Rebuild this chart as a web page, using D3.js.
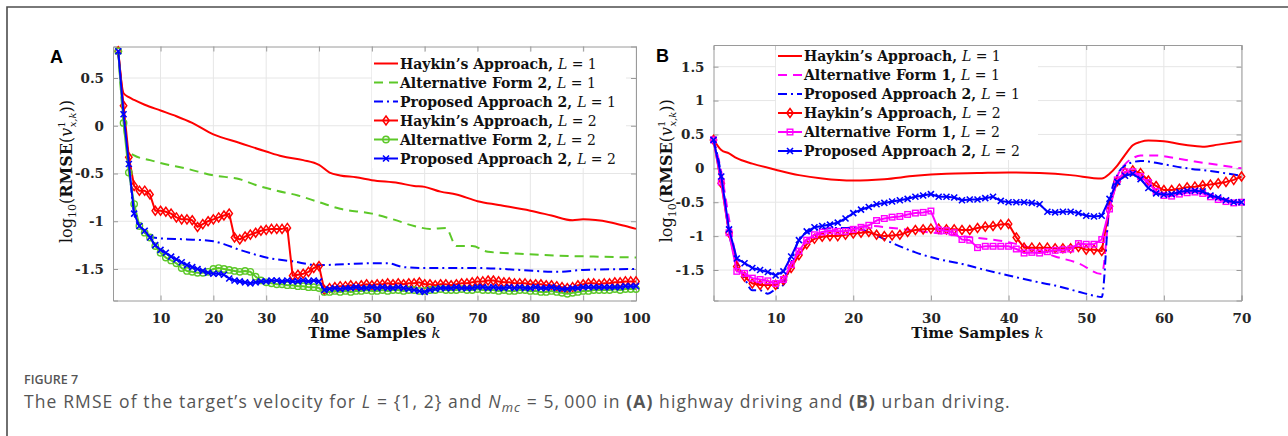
<!DOCTYPE html>
<html>
<head>
<meta charset="utf-8">
<script src="https://cdn.jsdelivr.net/npm/d3@7"></script>
<style>
  body { margin: 0; background: #fff; }
  svg { display: block; }
</style>
</head>
<body>
<div id="chart"></div>
<script>
// ---------- data ----------
var methodNames = ["Haykin’s Approach", "Alternative Form 2", "Proposed Approach 2"];
var methodNamesB = ["Haykin’s Approach", "Alternative Form 1", "Proposed Approach 2"];
var lValues = [1, 2];

var xTicksA = [10, 20, 30, 40, 50, 60, 70, 80, 90, 100];
var yTicksA = [-1.5, -1, -0.5, 0, 0.5];
var xTicksB = [10, 20, 30, 40, 50, 60, 70];
var yTicksB = [-1.5, -1, -0.5, 0, 0.5, 1, 1.5];

// panel A, L = 1 (lines only) : [k, value]
var haykinA1 = [[2,0.78],[3,0.34],[4,0.30],[5,0.27],[7,0.22],[10,0.16],[13,0.10],[16,0.03],[20,-0.09],[25,-0.18],[30,-0.27],[33,-0.32],[37,-0.36],[40,-0.41],[42,-0.49],[44,-0.52],[47,-0.54],[50,-0.57],[55,-0.60],[58,-0.63],[60,-0.64],[63,-0.69],[66,-0.72],[70,-0.79],[74,-0.83],[80,-0.89],[84,-0.94],[88,-0.99],[90,-0.98],[95,-1.01],[98,-1.05],[100,-1.08]];
var altA1 = [[2,0.78],[3,0.03],[4,-0.27],[5,-0.31],[8,-0.36],[10,-0.39],[15,-0.45],[20,-0.52],[25,-0.56],[28,-0.62],[32,-0.68],[36,-0.73],[40,-0.80],[44,-0.87],[50,-0.92],[54,-0.98],[58,-1.05],[61,-1.08],[64,-1.07],[66,-1.26],[69,-1.26],[72,-1.32],[78,-1.34],[85,-1.36],[92,-1.37],[100,-1.38]];
var propA1 = [[2,0.78],[3,0.12],[4,-0.40],[5,-0.92],[6,-1.05],[7,-1.12],[8,-1.16],[10,-1.18],[15,-1.19],[20,-1.21],[22,-1.24],[25,-1.30],[28,-1.35],[30,-1.38],[35,-1.42],[40,-1.46],[45,-1.45],[50,-1.44],[53,-1.44],[56,-1.48],[60,-1.49],[70,-1.49],[78,-1.51],[85,-1.53],[90,-1.51],[100,-1.50]];

// panel A, L = 2 (markers at every k = 2..100)
var kStartA = 2;
var haykinA2 = [0.78,0.21,-0.33,-0.63,-0.68,-0.68,-0.72,-0.89,-0.89,-0.90,
  -0.92,-0.96,-0.98,-0.98,-0.99,-1.06,-1.03,-1.00,-0.98,-0.96,
  -0.94,-0.92,-1.17,-1.19,-1.16,-1.14,-1.12,-1.10,-1.09,-1.08,
  -1.08,-1.08,-1.07,-1.57,-1.56,-1.55,-1.53,-1.49,-1.47,-1.72,
  -1.70,-1.69,-1.68,-1.68,-1.67,-1.68,-1.67,-1.66,-1.67,-1.66,
  -1.66,-1.65,-1.66,-1.65,-1.66,-1.65,-1.65,-1.64,-1.66,-1.66,
  -1.67,-1.66,-1.66,-1.67,-1.66,-1.65,-1.65,-1.64,-1.63,-1.63,
  -1.62,-1.62,-1.63,-1.64,-1.64,-1.65,-1.65,-1.65,-1.66,-1.66,
  -1.66,-1.67,-1.67,-1.68,-1.69,-1.70,-1.69,-1.67,-1.66,-1.65,
  -1.65,-1.66,-1.65,-1.65,-1.64,-1.64,-1.63,-1.63,-1.63];
var altA2 = [0.78,0.03,-0.49,-0.82,-1.05,-1.12,-1.17,-1.26,-1.33,-1.38,
  -1.41,-1.44,-1.49,-1.52,-1.53,-1.54,-1.54,-1.53,-1.50,-1.49,
  -1.50,-1.51,-1.52,-1.53,-1.52,-1.53,-1.58,-1.62,-1.64,-1.65,
  -1.66,-1.66,-1.67,-1.67,-1.68,-1.68,-1.69,-1.69,-1.70,-1.74,
  -1.74,-1.73,-1.74,-1.73,-1.74,-1.73,-1.73,-1.72,-1.73,-1.73,
  -1.72,-1.73,-1.72,-1.72,-1.73,-1.72,-1.72,-1.73,-1.73,-1.72,
  -1.72,-1.71,-1.72,-1.72,-1.72,-1.71,-1.72,-1.72,-1.71,-1.72,
  -1.72,-1.72,-1.73,-1.72,-1.73,-1.73,-1.72,-1.72,-1.73,-1.73,
  -1.74,-1.74,-1.73,-1.74,-1.75,-1.76,-1.75,-1.74,-1.73,-1.73,
  -1.72,-1.72,-1.72,-1.72,-1.71,-1.72,-1.71,-1.71,-1.71];
var propA2 = [0.78,0.12,-0.40,-0.92,-1.05,-1.10,-1.17,-1.25,-1.30,-1.33,
  -1.37,-1.40,-1.43,-1.46,-1.48,-1.50,-1.52,-1.54,-1.55,-1.55,
  -1.56,-1.60,-1.62,-1.63,-1.64,-1.65,-1.64,-1.63,-1.63,-1.62,
  -1.62,-1.63,-1.62,-1.63,-1.63,-1.62,-1.63,-1.62,-1.63,-1.72,
  -1.71,-1.70,-1.71,-1.70,-1.70,-1.69,-1.70,-1.70,-1.69,-1.70,
  -1.69,-1.70,-1.70,-1.69,-1.70,-1.71,-1.72,-1.73,-1.74,-1.72,
  -1.71,-1.70,-1.70,-1.70,-1.69,-1.70,-1.70,-1.70,-1.69,-1.69,
  -1.70,-1.69,-1.70,-1.70,-1.69,-1.70,-1.69,-1.70,-1.70,-1.69,
  -1.70,-1.70,-1.69,-1.70,-1.71,-1.71,-1.70,-1.70,-1.69,-1.69,
  -1.69,-1.69,-1.69,-1.69,-1.69,-1.69,-1.68,-1.68,-1.68];

// panel B, L = 1 (lines only) : [k, value]
var haykinB1 = [[2,0.43],[3,0.27],[4,0.22],[5,0.15],[7,0.07],[10,-0.02],[13,-0.10],[16,-0.15],[20,-0.18],[24,-0.16],[28,-0.11],[32,-0.08],[36,-0.07],[40,-0.06],[44,-0.07],[48,-0.10],[52,-0.15],[53,-0.08],[54,0.04],[55,0.20],[56,0.34],[57,0.39],[58,0.41],[60,0.40],[62,0.36],[64,0.33],[65,0.32],[67,0.35],[70,0.40]];
var altB1 = [[2,0.42],[3,-0.05],[4,-0.75],[5,-1.35],[6,-1.58],[7,-1.66],[8,-1.70],[9,-1.72],[10,-1.72],[11,-1.68],[12,-1.45],[13,-1.20],[14,-1.05],[16,-0.96],[18,-0.90],[20,-0.87],[22,-0.85],[25,-0.88],[28,-0.92],[31,-0.96],[34,-1.00],[37,-1.04],[40,-1.09],[43,-1.18],[46,-1.30],[49,-1.40],[52,-1.56],[53,-0.60],[54,-0.12],[55,0.06],[56,0.15],[57,0.19],[59,0.19],[61,0.16],[64,0.10],[67,0.05],[70,0.00]];
var propB1 = [[2,0.42],[3,-0.10],[4,-0.95],[5,-1.38],[6,-1.62],[7,-1.80],[8,-1.80],[9,-1.85],[10,-1.78],[11,-1.72],[12,-1.40],[13,-1.05],[14,-0.95],[15,-0.91],[18,-0.88],[20,-0.88],[22,-0.94],[25,-1.10],[28,-1.24],[31,-1.34],[34,-1.41],[37,-1.50],[40,-1.58],[43,-1.66],[46,-1.73],[49,-1.82],[51,-1.88],[52,-1.90],[53,-0.50],[54,-0.10],[55,0.04],[56,0.09],[57,0.11],[58,0.10],[60,0.06],[63,0.00],[66,-0.04],[70,-0.11]];

// panel B, L = 2 (markers at every k = 2..70)
var kStartB = 2;
var haykinB2 = [0.42,-0.22,-0.95,-1.45,-1.60,-1.70,-1.72,-1.72,-1.72,-1.65,
  -1.47,-1.28,-1.12,-1.04,-1.01,-1.00,-1.00,-0.98,-0.96,-0.95,
  -0.94,-0.98,-1.00,-0.99,-0.98,-0.94,-0.91,-0.90,-0.89,-0.89,
  -0.90,-0.90,-0.91,-0.91,-0.88,-0.86,-0.85,-0.83,-0.82,-1.02,
  -1.17,-1.17,-1.17,-1.17,-1.18,-1.18,-1.18,-1.16,-1.20,-1.20,
  -1.22,-0.56,-0.19,-0.06,-0.03,-0.07,-0.18,-0.26,-0.32,-0.32,
  -0.30,-0.28,-0.27,-0.25,-0.24,-0.22,-0.20,-0.17,-0.12];
var altB2 = [0.42,-0.20,-0.95,-1.52,-1.55,-1.62,-1.64,-1.66,-1.70,-1.64,
  -1.42,-1.22,-1.06,-0.98,-0.94,-0.92,-0.93,-0.93,-0.90,-0.87,
  -0.84,-0.77,-0.74,-0.72,-0.71,-0.68,-0.66,-0.65,-0.63,-0.91,
  -0.92,-0.95,-1.05,-1.06,-1.17,-1.15,-1.15,-1.15,-1.15,-1.19,
  -1.25,-1.24,-1.25,-1.23,-1.21,-1.20,-1.19,-1.11,-1.12,-1.12,
  -1.05,-0.60,-0.17,-0.05,-0.05,-0.12,-0.21,-0.34,-0.40,-0.41,
  -0.38,-0.36,-0.35,-0.37,-0.42,-0.46,-0.49,-0.51,-0.50];
var propB2 = [0.42,-0.12,-0.90,-1.33,-1.40,-1.47,-1.50,-1.53,-1.58,-1.52,
  -1.30,-1.06,-0.93,-0.87,-0.85,-0.83,-0.80,-0.74,-0.66,-0.61,
  -0.57,-0.53,-0.51,-0.49,-0.47,-0.45,-0.42,-0.40,-0.38,-0.42,
  -0.42,-0.43,-0.47,-0.46,-0.46,-0.44,-0.42,-0.48,-0.50,-0.50,
  -0.50,-0.51,-0.53,-0.64,-0.65,-0.64,-0.64,-0.66,-0.70,-0.71,
  -0.70,-0.45,-0.20,-0.11,-0.08,-0.16,-0.29,-0.37,-0.39,-0.38,
  -0.35,-0.33,-0.33,-0.34,-0.40,-0.43,-0.47,-0.50,-0.50];

// ---------- styling ----------
var W = 1288, H = 436;
var RED = "#ff0000", GREEN = "#5cc828", BLUE = "#0000ff", MAGENTA = "#ff00ff";
var serif = "'DejaVu Serif', serif";
var DASH = "9,6", DASHDOT = "9,4,2,4";

function toPairs(vals, k0) { return vals.map(function(v, i){ return [k0 + i, v]; }); }

var panels = [
  { label: "A", left: 113, right: 636, top: 46.5, bottom: 300.5,
    xDomain: [1, 100], yDomain: [-1.83, 0.83], xTicks: xTicksA, yTicks: yTicksA,
    legend: { x: 372, y: 52, w: 254, h: 116, row0: 63.5, rowStep: 19 },
    ylabX: 72,
    series: [
      { name: methodNames[0], L: lValues[0], color: RED, dash: null, marker: null, pts: haykinA1 },
      { name: methodNames[1], L: lValues[0], color: GREEN, dash: DASH, marker: null, pts: altA1 },
      { name: methodNames[2], L: lValues[0], color: BLUE, dash: DASHDOT, marker: null, pts: propA1 },
      { name: methodNames[0], L: lValues[1], color: RED, dash: null, marker: "diamond", pts: toPairs(haykinA2, kStartA) },
      { name: methodNames[1], L: lValues[1], color: GREEN, dash: null, marker: "circle", pts: toPairs(altA2, kStartA) },
      { name: methodNames[2], L: lValues[1], color: BLUE, dash: null, marker: "x", pts: toPairs(propA2, kStartA) }
    ] },
  { label: "B", left: 713.5, right: 1241.5, top: 45, bottom: 300.5,
    xDomain: [2, 70], yDomain: [-1.95, 1.82], xTicks: xTicksB, yTicks: yTicksB,
    legend: { x: 776, y: 46, w: 262, h: 114, row0: 56, rowStep: 19 },
    ylabX: 672,
    series: [
      { name: methodNamesB[0], L: lValues[0], color: RED, dash: null, marker: null, pts: haykinB1 },
      { name: methodNamesB[1], L: lValues[0], color: MAGENTA, dash: DASH, marker: null, pts: altB1 },
      { name: methodNamesB[2], L: lValues[0], color: BLUE, dash: DASHDOT, marker: null, pts: propB1 },
      { name: methodNamesB[0], L: lValues[1], color: RED, dash: null, marker: "diamond", pts: toPairs(haykinB2, kStartB) },
      { name: methodNamesB[1], L: lValues[1], color: MAGENTA, dash: null, marker: "square", pts: toPairs(altB2, kStartB) },
      { name: methodNamesB[2], L: lValues[1], color: BLUE, dash: null, marker: "x", pts: toPairs(propB2, kStartB) }
    ] }
];

var svg = d3.select("#chart").append("svg")
  .attr("width", W).attr("height", H)
  .style("font-family", serif);

// figure frame (top + left rule)
svg.append("path")
  .attr("d", "M7," + H + " L7,7 L" + W + ",7")
  .attr("fill", "none").attr("stroke", "#4d4d4d").attr("stroke-width", 1.6);

function drawMarker(g, type, cx, cy, color) {
  if (type === "diamond") {
    g.append("path").attr("d", "M" + cx + "," + (cy - 4.5) + " L" + (cx + 3.2) + "," + cy + " L" + cx + "," + (cy + 4.5) + " L" + (cx - 3.2) + "," + cy + " Z")
      .attr("fill", "none").attr("stroke", color).attr("stroke-width", 1.5);
  } else if (type === "circle") {
    g.append("circle").attr("cx", cx).attr("cy", cy).attr("r", 3.2)
      .attr("fill", "none").attr("stroke", color).attr("stroke-width", 1.4);
  } else if (type === "square") {
    g.append("rect").attr("x", cx - 2.8).attr("y", cy - 2.8).attr("width", 5.6).attr("height", 5.6)
      .attr("fill", "none").attr("stroke", color).attr("stroke-width", 1.4);
  } else if (type === "x") {
    g.append("path").attr("d", "M" + (cx - 3) + "," + (cy - 3) + " L" + (cx + 3) + "," + (cy + 3) + " M" + (cx - 3) + "," + (cy + 3) + " L" + (cx + 3) + "," + (cy - 3))
      .attr("fill", "none").attr("stroke", color).attr("stroke-width", 1.6);
  }
}

function addLegendText(t, name, L) {
  t.append("tspan").style("font-weight", "bold").text(name + ", ");
  t.append("tspan").style("font-style", "italic").text("L");
  t.append("tspan").text(" = " + L);
}

panels.forEach(function(p) {
  var x = d3.scaleLinear().domain(p.xDomain).range([p.left, p.right]);
  var y = d3.scaleLinear().domain(p.yDomain).range([p.bottom, p.top]);
  var g = svg.append("g");

  // grid
  g.append("g").selectAll("line.gx").data(p.xTicks).join("line")
    .attr("x1", function(d){ return x(d); }).attr("x2", function(d){ return x(d); })
    .attr("y1", p.top).attr("y2", p.bottom)
    .attr("stroke", "#e6e6e6").attr("stroke-width", 1);
  g.append("g").selectAll("line.gy").data(p.yTicks).join("line")
    .attr("x1", p.left).attr("x2", p.right)
    .attr("y1", function(d){ return y(d); }).attr("y2", function(d){ return y(d); })
    .attr("stroke", "#e6e6e6").attr("stroke-width", 1);

  // axes with labels (ticks pointing inward)
  var xAxis = g.append("g").attr("transform", "translate(0," + p.bottom + ")")
    .call(d3.axisBottom(x).tickValues(p.xTicks).tickSize(-5).tickPadding(13).tickFormat(function(d){ return String(d); }));
  var yAxis = g.append("g").attr("transform", "translate(" + p.left + ",0)")
    .call(d3.axisLeft(y).tickValues(p.yTicks).tickSize(-5).tickPadding(9).tickFormat(function(d){ return String(d); }));
  var xTop = g.append("g").attr("transform", "translate(0," + p.top + ")")
    .call(d3.axisTop(x).tickValues(p.xTicks).tickSize(-5).tickFormat(""));
  var yRight = g.append("g").attr("transform", "translate(" + p.right + ",0)")
    .call(d3.axisRight(y).tickValues(p.yTicks).tickSize(-5).tickFormat(""));
  [xAxis, yAxis, xTop, yRight].forEach(function(a) {
    a.select(".domain").attr("stroke", "#9a9a9a").attr("stroke-width", 1);
    a.selectAll(".tick line").attr("stroke", "#9a9a9a");
    a.selectAll("text").style("font-family", serif).style("font-weight", "bold")
      .style("font-size", "13.5px").attr("fill", "#262626");
  });

  // series
  var line = d3.line().x(function(d){ return x(d[0]); }).y(function(d){ return y(d[1]); });
  p.series.forEach(function(s) {
    g.append("path").datum(s.pts)
      .attr("d", line.curve(s.marker ? d3.curveLinear : d3.curveMonotoneX))
      .attr("fill", "none").attr("stroke", s.color).attr("stroke-width", 2)
      .attr("stroke-dasharray", s.dash).attr("stroke-linejoin", "round");
    if (s.marker) {
      var mg = g.append("g");
      s.pts.forEach(function(d) { drawMarker(mg, s.marker, x(d[0]), y(d[1]), s.color); });
    }
  });

  // legend
  var lg = g.append("g");
  lg.append("rect").attr("x", p.legend.x).attr("y", p.legend.y)
    .attr("width", p.legend.w).attr("height", p.legend.h).attr("fill", "#fff");
  p.series.forEach(function(s, i) {
    var cy = p.legend.row0 + i * p.legend.rowStep;
    var x0 = p.legend.x + 2, x1 = p.legend.x + 26;
    lg.append("line").attr("x1", x0).attr("x2", x1).attr("y1", cy).attr("y2", cy)
      .attr("stroke", s.color).attr("stroke-width", 2).attr("stroke-dasharray", s.dash);
    if (s.marker) drawMarker(lg, s.marker, (x0 + x1) / 2, cy, s.color);
    var t = lg.append("text").attr("x", x1 + 2).attr("y", cy + 5)
      .style("font-size", "14px").attr("fill", "#111");
    addLegendText(t, s.name, s.L);
  });

  // x label
  var xl = g.append("text").attr("x", (p.left + p.right) / 2).attr("y", 338)
    .attr("text-anchor", "middle").style("font-size", "15px").attr("fill", "#111");
  xl.append("tspan").style("font-weight", "bold").text("Time Samples ");
  xl.append("tspan").style("font-style", "italic").text("k");

  // y label
  var yl = g.append("text")
    .attr("transform", "translate(" + p.ylabX + "," + ((p.top + p.bottom) / 2 - 2) + ") rotate(-90)")
    .attr("text-anchor", "middle").style("font-size", "16px").attr("fill", "#111");
  yl.append("tspan").text("log");
  yl.append("tspan").attr("dy", 4).style("font-size", "11px").text("10");
  yl.append("tspan").attr("dy", -4).text("(");
  yl.append("tspan").style("font-weight", "bold").text("RMSE");
  yl.append("tspan").text("(");
  yl.append("tspan").style("font-style", "italic").text("v");
  yl.append("tspan").attr("dy", -7).style("font-size", "10px").text("1");
  yl.append("tspan").attr("dx", -6).attr("dy", 11).style("font-size", "10px").style("font-style", "italic").text("x,k");
  yl.append("tspan").attr("dy", -4).text("))");

  // panel letter
  svg.append("text").attr("x", p.label === "A" ? 50 : 656).attr("y", p.label === "A" ? 63 : 62)
    .style("font-family", "'Liberation Sans', Arial, sans-serif").style("font-weight", "bold")
    .style("font-size", "18px").attr("fill", "#000").text(p.label);
});

// caption
var sans = "'Open Sans', sans-serif";
svg.append("text").attr("x", 24).attr("y", 384)
  .style("font-family", sans).style("font-weight", 600).style("font-size", "12.5px")
  .attr("fill", "#555").text("FIGURE 7");
var cap = svg.append("text").attr("x", 24).attr("y", 408)
  .style("font-family", sans).style("font-size", "17.5px").style("letter-spacing", "1.1px")
  .attr("fill", "#555");
cap.append("tspan").text("The RMSE of the target’s velocity for ");
cap.append("tspan").style("font-style", "italic").text("L");
cap.append("tspan").text(" = {1, 2} and ");
cap.append("tspan").style("font-style", "italic").text("N");
cap.append("tspan").attr("dy", 4).style("font-style", "italic").style("font-size", "13px").text("mc");
cap.append("tspan").attr("dy", -4).text(" = 5,\u2009000 in ");
cap.append("tspan").style("font-weight", "bold").text("(A)");
cap.append("tspan").text(" highway driving and ");
cap.append("tspan").style("font-weight", "bold").text("(B)");
cap.append("tspan").text(" urban driving.");
</script>
</body>
</html>
